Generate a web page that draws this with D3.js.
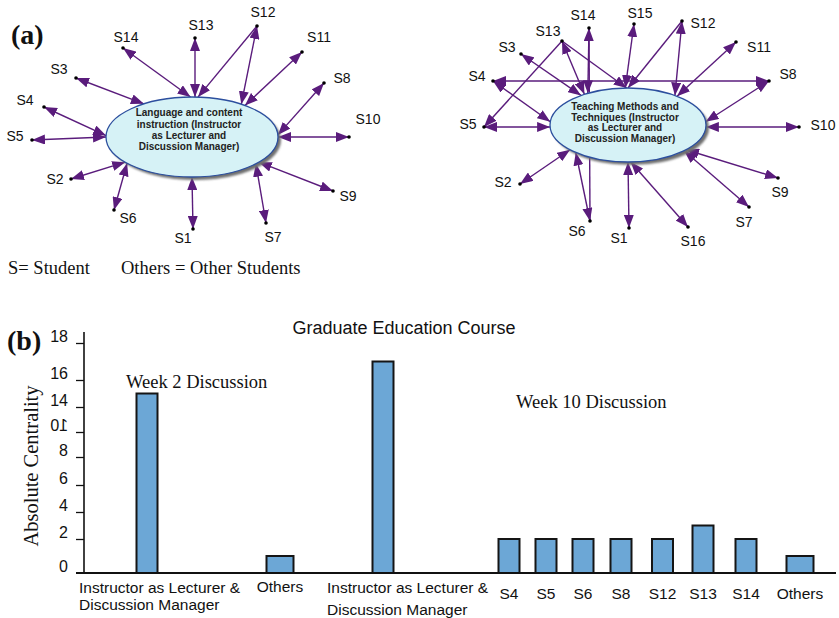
<!DOCTYPE html>
<html>
<head>
<meta charset="utf-8">
<script src="https://cdn.jsdelivr.net/npm/d3@7"></script>
<style>
  html, body { margin: 0; padding: 0; background: #fff; }
  svg { display: block; }
</style>
</head>
<body>
<svg id="fig" width="839" height="618"></svg>
<script>
// ---------------- data ----------------
// (a) left network: week 2 discussion
const hubTextA = ["Language and content", "instruction (Instructor", "as Lecturer and", "Discussion Manager)"];
const studentsA = ["S14", "S13", "S12", "S11", "S8", "S10", "S9", "S7", "S1", "S6", "S2", "S5", "S4", "S3"];
// [from, to, arrowheads]  — "HUB" is the central discussion node
const linksA = [
  ["S14", "HUB", "both"], ["S13", "HUB", "both"], ["S12", "HUB", "end"], ["S12", "HUB", "both"],
  ["S11", "HUB", "both"], ["S8", "HUB", "both"], ["S10", "HUB", "both"], ["S9", "HUB", "both"],
  ["S7", "HUB", "both"], ["S1", "HUB", "both"], ["S6", "HUB", "both"], ["S2", "HUB", "both"],
  ["S5", "HUB", "both"], ["S4", "HUB", "both"], ["S3", "HUB", "both"]
];

// (a) right network: week 10 discussion
const hubTextB = ["Teaching Methods and", "Techniques (Instructor", "as Lecturer and", "Discussion Manager)"];
const studentsB = ["S14", "S15", "S12", "S11", "S8", "S10", "S9", "S7", "S16", "S1", "S6", "S2", "S5", "S4", "S3", "S13"];
const linksB = [
  ["S3", "HUB", "both"], ["S13", "HUB", "both"], ["S13", "HUB", "end"], ["S13", "S5", "end"],
  ["S14", "HUB", "both"], ["S14", "S6", "none"], ["S15", "HUB", "both"], ["S12", "HUB", "end"],
  ["S12", "HUB", "both"], ["S11", "HUB", "both"], ["S4", "S8", "both"], ["S4", "HUB", "both"],
  ["S5", "HUB", "both"], ["S8", "HUB", "both"], ["S10", "HUB", "both"], ["S9", "HUB", "both"],
  ["S7", "HUB", "both"], ["S16", "HUB", "both"], ["S1", "HUB", "both"], ["S6", "HUB", "both"],
  ["S2", "HUB", "both"]
];

// (b) absolute centrality bars
const barCategories = [
  "Instructor as Lecturer & Discussion Manager", "Others",
  "Instructor as Lecturer & Discussion Manager", "S4", "S5", "S6", "S8", "S12", "S13", "S14", "Others"
];
const barWeek = [2, 2, 10, 10, 10, 10, 10, 10, 10, 10, 10];
const barValues = [15, 1, 17, 2, 2, 2, 2, 2, 3, 2, 1];
const yTickValues = [0, 2, 4, 6, 8, 10, 14, 16, 18];
const weekTitles = ["Week 2 Discussion", "Week 10 Discussion"];

// ---------------- layout ----------------
const SANS = "'Liberation Sans', Arial, Helvetica, sans-serif";
const SERIF = "'Liberation Serif', 'Times New Roman', serif";
const PURPLE = "#5a1c7c";

const layoutA = {
  hub: { cx: 192, cy: 137, rx: 86, ry: 40, textY: [113, 125, 136, 147] },
  node: {
    S14: [123, 48, 126, 38], S13: [195, 38, 201, 26], S12: [257, 26, 263, 13], S11: [302, 52, 319, 38],
    S8: [324, 83, 342, 79], S10: [349, 137, 368, 120], S9: [333, 191, 348, 197], S7: [266, 223, 273, 238],
    S1: [193, 229, 183, 239], S6: [114, 210, 128, 219], S2: [71, 179, 55, 180], S5: [32, 140, 15, 137],
    S4: [44, 107, 25, 101], S3: [76, 78, 59, 70]
  },
  // attachment angle on the ellipse (degrees) for each link, in link order
  anchor: [-91, -88, -86, -55, -52, -3, 0, 39, 42, 90, 139, 141, 180, 182, -124]
};

const layoutB = {
  hub: { cx: 628, cy: 125, rx: 78, ry: 37, textY: [107, 118, 128, 139] },
  node: {
    S14: [589, 28, 583, 16], S15: [634, 24, 640, 14], S12: [682, 21, 703, 24], S11: [736, 42, 759, 48],
    S8: [769, 81, 788, 75], S10: [799, 127, 823, 126], S9: [778, 178, 780, 193], S7: [749, 207, 744, 223],
    S16: [688, 227, 693, 242], S1: [629, 228, 619, 239], S6: [590, 221, 577, 232], S2: [520, 184, 503, 183],
    S5: [484, 127, 468, 125], S4: [493, 81, 477, 77], S3: [521, 54, 507, 48], S13: [562, 41, 548, 32]
  },
  anchor: [-127, -124, -91, null, -121, null, -92, -90, -53, -51, null, 185, 177, -5, 3, 42, 44, 88, 90, 132, 138]
};

const svg = d3.select("#fig");

// arrowhead marker, used at either end of a link
const defs = svg.append("defs");
defs.append("marker")
  .attr("id", "arrow")
  .attr("viewBox", "0 -5 13 10")
  .attr("refX", 13).attr("refY", 0)
  .attr("markerWidth", 13).attr("markerHeight", 10)
  .attr("markerUnits", "userSpaceOnUse")
  .attr("orient", "auto-start-reverse")
  .append("path").attr("d", "M0,-5L13,0L0,5Z").attr("fill", PURPLE);

defs.append("filter").attr("id", "soft").append("feGaussianBlur").attr("stdDeviation", 0.8);

function drawNetwork(students, links, hubText, layout) {
  const g = svg.append("g");
  const h = layout.hub;
  const hubPoint = deg => {
    const t = deg * Math.PI / 180;
    return [h.cx + h.rx * Math.cos(t), h.cy + h.ry * Math.sin(t)];
  };
  const pt = (name, i) => name === "HUB" ? hubPoint(layout.anchor[i]) : layout.node[name].slice(0, 2);

  g.append("g").selectAll("line")
    .data(links)
    .join("line")
    .attr("x1", (d, i) => pt(d[0], i)[0])
    .attr("y1", (d, i) => pt(d[0], i)[1])
    .attr("x2", (d, i) => pt(d[1], i)[0])
    .attr("y2", (d, i) => pt(d[1], i)[1])
    .attr("stroke", PURPLE)
    .attr("stroke-width", 1.4)
    .attr("marker-start", d => d[2] === "both" ? "url(#arrow)" : null)
    .attr("marker-end", d => d[2] === "none" ? null : "url(#arrow)");

  // hub ellipse with drop shadow
  g.append("ellipse")
    .attr("cx", h.cx + 3).attr("cy", h.cy + 3).attr("rx", h.rx).attr("ry", h.ry)
    .attr("fill", "#6f6f6f").attr("filter", "url(#soft)");
  g.append("ellipse")
    .attr("cx", h.cx).attr("cy", h.cy).attr("rx", h.rx).attr("ry", h.ry)
    .attr("fill", "#d6f2f6").attr("stroke", "#2c4f9e").attr("stroke-width", 1.3);

  g.append("g").selectAll("text")
    .data(hubText)
    .join("text")
    .attr("x", h.cx - 3)
    .attr("y", (d, i) => h.textY[i])
    .attr("text-anchor", "middle")
    .attr("dominant-baseline", "middle")
    .attr("font-family", SANS)
    .attr("font-weight", "bold")
    .attr("font-size", 10)
    .attr("fill", "#222")
    .text(d => d);

  g.append("g").selectAll("circle")
    .data(students)
    .join("circle")
    .attr("cx", d => layout.node[d][0])
    .attr("cy", d => layout.node[d][1])
    .attr("r", 1.8)
    .attr("fill", "#000");

  g.append("g").selectAll("text")
    .data(students)
    .join("text")
    .attr("x", d => layout.node[d][2])
    .attr("y", d => layout.node[d][3])
    .attr("text-anchor", "middle")
    .attr("dominant-baseline", "middle")
    .attr("font-family", SANS)
    .attr("font-size", 14)
    .attr("fill", "#111")
    .text(d => d);
}

drawNetwork(studentsA, linksA, hubTextA, layoutA);
drawNetwork(studentsB, linksB, hubTextB, layoutB);

// panel letters and key
svg.append("text").attr("x", 11).attr("y", 44)
  .attr("font-family", SERIF).attr("font-weight", "bold").attr("font-size", 28).attr("fill", "#111").text("(a)");
svg.append("text").attr("x", 7).attr("y", 350)
  .attr("font-family", SERIF).attr("font-weight", "bold").attr("font-size", 28).attr("fill", "#111").text("(b)");
svg.append("text").attr("x", 8).attr("y", 274)
  .attr("font-family", SERIF).attr("font-size", 18.5).attr("fill", "#111").text("S= Student");
svg.append("text").attr("x", 121).attr("y", 274)
  .attr("font-family", SERIF).attr("font-size", 18.5).attr("fill", "#111").text("Others = Other Students");

// ---------------- (b) bar chart ----------------
const yPix = [573, 539, 512, 485, 457, 432, 407, 380, 343];
const y = d3.scaleLinear().domain(yTickValues).range(yPix);
const xCenters = [147, 280, 383, 509, 546, 583, 621, 662.5, 703, 746, 800];
const x = d3.scaleOrdinal().domain(d3.range(barCategories.length)).range(xCenters);
const barW = i => barCategories[i] === "Others" ? 27 : 21;

const chart = svg.append("g");

chart.append("text")
  .attr("x", 404).attr("y", 334)
  .attr("text-anchor", "middle")
  .attr("font-family", SANS).attr("font-size", 18).attr("fill", "#111")
  .text("Graduate Education Course");

chart.append("text")
  .attr("transform", "translate(38,466) rotate(-90)")
  .attr("text-anchor", "middle")
  .attr("font-family", SERIF).attr("font-size", 20.5).attr("fill", "#111")
  .text("Absolute Centrality");

chart.append("g").selectAll("text")
  .data(weekTitles)
  .join("text")
  .attr("x", (d, i) => [126, 516][i])
  .attr("y", (d, i) => [388, 408][i])
  .attr("font-family", SERIF).attr("font-size", 18.5).attr("fill", "#111")
  .text(d => d);

chart.append("g").selectAll("rect")
  .data(barValues)
  .join("rect")
  .attr("x", (d, i) => x(i) - barW(i) / 2)
  .attr("width", (d, i) => barW(i))
  .attr("y", d => y(d))
  .attr("height", d => y(0) - y(d))
  .attr("fill", "#6ca7d6")
  .attr("stroke", "#151515")
  .attr("stroke-width", 2);

// y axis
const yAxis = d3.axisLeft(y).tickValues(yTickValues).tickSize(8).tickPadding(8).tickFormat(d3.format("d"));
const ay = chart.append("g").attr("transform", "translate(84,0)").call(yAxis);
ay.select(".domain").remove();
ay.selectAll(".tick line").attr("stroke", "#111").attr("stroke-width", 1.3)
  .filter(d => d === 0).remove();
ay.selectAll(".tick text")
  .attr("font-family", SANS).attr("font-size", 16).attr("fill", "#111")
  .attr("dy", null).attr("y", -6).attr("dominant-baseline", "middle");
// the "10" label is printed mirrored
ay.selectAll(".tick text").filter(d => d === 10).each(function () {
  const b = this.getBBox();
  const cx = b.x + b.width / 2;
  d3.select(this).attr("transform", `translate(${2 * cx},0) scale(-1,1)`);
});
chart.append("line")
  .attr("x1", 84).attr("x2", 84).attr("y1", 332).attr("y2", y(0))
  .attr("stroke", "#111").attr("stroke-width", 1.6);
chart.append("line")
  .attr("x1", 76).attr("x2", 836).attr("y1", y(0)).attr("y2", y(0))
  .attr("stroke", "#111").attr("stroke-width", 2);

// category labels
const labelG = chart.append("g").attr("font-family", SANS).attr("font-size", 15.5).attr("fill", "#111");
barCategories.forEach((c, i) => {
  if (c.includes("&")) {
    const parts = c.split("& ");
    const left = barWeek[i] === 2 ? x(i) - 68 : x(i) - 56;
    labelG.append("text").attr("x", left).attr("y", 593).text(parts[0] + "&");
    labelG.append("text").attr("x", left).attr("y", barWeek[i] === 2 ? 610 : 615).text(parts[1]);
  } else {
    labelG.append("text")
      .attr("x", x(i))
      .attr("y", barWeek[i] === 2 ? 592 : 599)
      .attr("text-anchor", "middle")
      .text(c);
  }
});
</script>
</body>
</html>
